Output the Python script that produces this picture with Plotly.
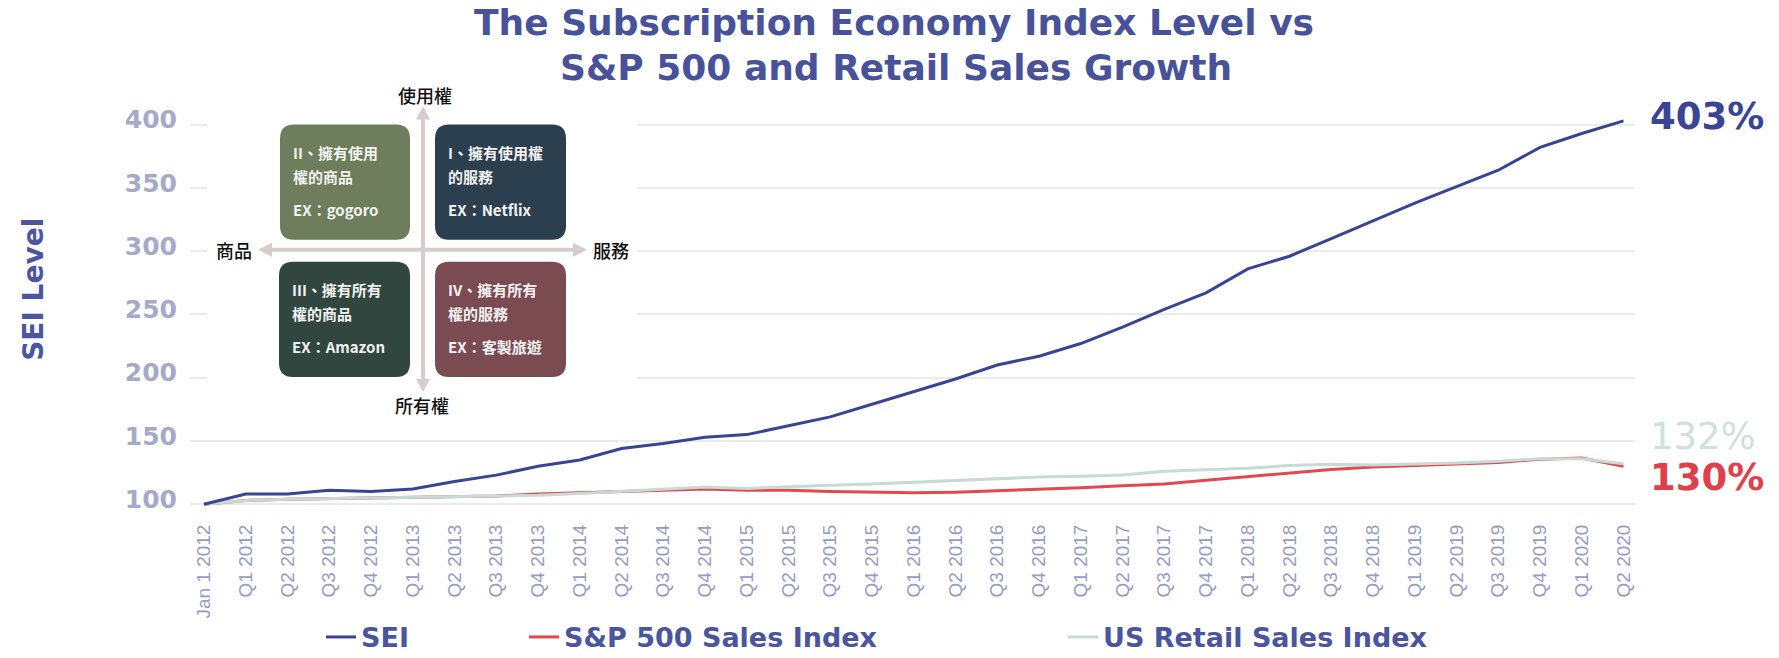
import plotly.graph_objects as go

# ---- data -------------------------------------------------------------
quarters = [
    "Jan 1 2012",
    "Q1 2012", "Q2 2012", "Q3 2012", "Q4 2012",
    "Q1 2013", "Q2 2013", "Q3 2013", "Q4 2013",
    "Q1 2014", "Q2 2014", "Q3 2014", "Q4 2014",
    "Q1 2015", "Q2 2015", "Q3 2015", "Q4 2015",
    "Q1 2016", "Q2 2016", "Q3 2016", "Q4 2016",
    "Q1 2017", "Q2 2017", "Q3 2017", "Q4 2017",
    "Q1 2018", "Q2 2018", "Q3 2018", "Q4 2018",
    "Q1 2019", "Q2 2019", "Q3 2019", "Q4 2019",
    "Q1 2020", "Q2 2020",
]

sei_level = [100, 108, 108, 111, 110, 112, 118, 123, 130, 135, 144, 148, 153,
             155, 162, 169, 179, 189, 199, 210, 217, 227, 240, 254, 267, 286,
             296, 310, 324, 338, 351, 364, 382, 393, 403]

sp500_sales = [100, 103, 104, 104.5, 105, 105.5, 106, 106.5, 108, 109, 110, 111,
               112, 111, 111, 110, 109.5, 109, 109.5, 110.5, 111.5, 113, 114.5,
               116, 119, 122, 125, 127.5, 129.5, 130.5, 131.5, 133, 135.5,
               136.5, 130]

us_retail_sales = [100, 103, 104, 104.5, 105, 105.5, 106, 106.5, 107, 108.5,
                   110, 111.5, 113.5, 112.5, 114, 115, 116, 117.5, 119, 120,
                   121.5, 122, 123, 126, 127, 128.5, 130.5, 131.5, 131, 131.5,
                   132.5, 134, 136, 136, 132]

y_ticks = [100, 150, 200, 250, 300, 350, 400]

end_labels = ["403%", "132%", "130%"]

quadrants = [
    # (line 1, line 2, example, fill)
    ("II、擁有使用", "權的商品", "EX：gogoro", "#6e7d5b"),
    ("I、擁有使用權", "的服務", "EX：Netflix", "#2b3f4e"),
    ("III、擁有所有", "權的商品", "EX：Amazon", "#30463f"),
    ("IV、擁有所有", "權的服務", "EX：客製旅遊", "#7a4c52"),
]

# ---- geometry helpers (page pixels -> paper fractions) ---------------
FIG_W, FIG_H = 1779, 658
M_L, M_R, M_T, M_B = 190, 144, 112.4, 150.2
PLOT_W = FIG_W - M_L - M_R
PLOT_H = FIG_H - M_T - M_B


def xp(px):
    return (px - M_L) / PLOT_W


def yp(py):
    return (FIG_H - M_B - py) / PLOT_H


def poly_path(points):
    s = "M " + " L ".join(f"{xp(x):.5f},{yp(y):.5f}" for x, y in points)
    return s + " Z"


def rounded_rect(x0, y0, x1, y1, r):
    def p(x, y):
        return f"{xp(x):.5f},{yp(y):.5f}"
    return (f"M {p(x0 + r, y0)} L {p(x1 - r, y0)} Q {p(x1, y0)} {p(x1, y0 + r)} "
            f"L {p(x1, y1 - r)} Q {p(x1, y1)} {p(x1 - r, y1)} "
            f"L {p(x0 + r, y1)} Q {p(x0, y1)} {p(x0, y1 - r)} "
            f"L {p(x0, y0 + r)} Q {p(x0, y0)} {p(x0 + r, y0)} Z")


NAVY = "#3a4494"
RED = "#e4474f"
MINT = "#c6dbd4"
TITLE_BLUE = "#48529a"
BOLD = "DejaVu Sans"
CJK = "Noto Sans CJK TC"

fig = go.Figure()

fig.add_trace(go.Scatter(
    x=quarters, y=sp500_sales, mode="lines", name="S&P 500 Sales Index",
    line=dict(color=RED, width=3), legend="legend2", hoverinfo="x+y"))
fig.add_trace(go.Scatter(
    x=quarters, y=us_retail_sales, mode="lines", name="US Retail Sales Index",
    line=dict(color=MINT, width=3), legend="legend3", hoverinfo="x+y"))
fig.add_trace(go.Scatter(
    x=quarters, y=sei_level, mode="lines", name="SEI",
    line=dict(color=NAVY, width=3), legend="legend", hoverinfo="x+y"))

# ---- end-of-line value labels ----------------------------------------
label_specs = [
    (sei_level[-1], end_labels[0], NAVY, "bold", 4),
    (us_retail_sales[-1], end_labels[1], "#cfe1db", "normal", 27),
    (sp500_sales[-1], end_labels[2], "#e0404b", "bold", -11),
]
annotations = []
for val, txt, col, weight, ysh in label_specs:
    annotations.append(dict(
        x=quarters[-1], y=val, xref="x", yref="y", text=txt, showarrow=False,
        xanchor="left", yanchor="middle", xshift=24, yshift=ysh,
        font=dict(family=BOLD, size=37, color=col, weight=weight)))

# ---- title and axis title --------------------------------------------
annotations.append(dict(
    x=xp(894), y=yp(23.5), xref="paper", yref="paper", showarrow=False,
    text="The Subscription Economy Index Level vs", xanchor="center",
    yanchor="middle", font=dict(family=BOLD, size=36, color=TITLE_BLUE,
                                weight="bold")))
annotations.append(dict(
    x=xp(896), y=yp(67.5), xref="paper", yref="paper", showarrow=False,
    text="S&P 500 and Retail Sales Growth", xanchor="center",
    yanchor="middle", font=dict(family=BOLD, size=36, color=TITLE_BLUE,
                                weight="bold")))
annotations.append(dict(
    x=xp(34), y=yp(290), xref="paper", yref="paper", showarrow=False,
    text="SEI Level", textangle=-90, xanchor="center", yanchor="middle",
    font=dict(family=BOLD, size=28, color="#4b56a3", weight="bold")))

# ---- ownership / usage quadrant diagram -----------------------------
shapes = []
shapes.append(dict(type="rect", xref="paper", yref="paper",
                   x0=xp(207), x1=xp(637), y0=yp(422), y1=yp(86),
                   fillcolor="white", line=dict(width=0), layer="above"))

ARROW = "#d8cbcb"
cx, top, bot = 423, 107, 392
shapes.append(dict(type="path", xref="paper", yref="paper", layer="above",
                   fillcolor=ARROW, line=dict(width=0),
                   path=poly_path([(cx, top), (cx + 7, top + 13), (cx + 2, top + 13),
                                   (cx + 2, bot - 13), (cx + 7, bot - 13), (cx, bot),
                                   (cx - 7, bot - 13), (cx - 2, bot - 13),
                                   (cx - 2, top + 13), (cx - 7, top + 13)])))
cy, lft, rgt = 250, 258, 587
shapes.append(dict(type="path", xref="paper", yref="paper", layer="above",
                   fillcolor=ARROW, line=dict(width=0),
                   path=poly_path([(lft, cy), (lft + 14, cy - 7), (lft + 14, cy - 2),
                                   (rgt - 14, cy - 2), (rgt - 14, cy - 7), (rgt, cy),
                                   (rgt - 14, cy + 7), (rgt - 14, cy + 2),
                                   (lft + 14, cy + 2), (lft + 14, cy + 7)])))

box_frames = [(280, 125, 410, 240), (435, 125, 566, 240),
              (279, 262, 410, 377), (435, 262, 566, 377)]
for (x0, y0, x1, y1), (l1, l2, ex, fill) in zip(box_frames, quadrants):
    shapes.append(dict(type="path", xref="paper", yref="paper", layer="above",
                       fillcolor=fill, line=dict(width=0),
                       path=rounded_rect(x0, y0, x1, y1, 14)))
    for txt, ty in ((l1, y0 + 28), (l2, y0 + 52), (ex, y0 + 85)):
        annotations.append(dict(
            x=xp(x0 + 11), y=yp(ty), xref="paper", yref="paper", text=txt,
            showarrow=False, xanchor="left", yanchor="middle",
            font=dict(family=CJK, size=15, color="#f2f2f2", weight="bold")))

for txt, tx, ty in (("使用權", 425, 95), ("所有權", 422, 405),
                    ("商品", 234, 250), ("服務", 611, 250)):
    annotations.append(dict(
        x=xp(tx), y=yp(ty), xref="paper", yref="paper", text=txt,
        showarrow=False, xanchor="center", yanchor="middle",
        font=dict(family=CJK, size=18, color="#111111", weight=500)))

legend_font = dict(family=BOLD, size=27, color="#4a55a0", weight="bold")
legend_y = yp(637)


def legend_at(text_left_px):
    return dict(x=xp(text_left_px - 40), y=legend_y, xanchor="left",
                yanchor="middle", orientation="h", font=legend_font,
                bgcolor="rgba(0,0,0,0)", borderwidth=0)


fig.update_layout(
    width=FIG_W, height=FIG_H,
    margin=dict(l=M_L, r=M_R, t=M_T, b=M_B, pad=0, autoexpand=False),
    paper_bgcolor="white", plot_bgcolor="white",
    showlegend=True,
    legend=legend_at(361),
    legend2=legend_at(564),
    legend3=legend_at(1103),
    xaxis=dict(type="category", range=[-0.335, 34.275], showgrid=False,
               zeroline=False, showline=False, tickangle=-90,
               ticks="outside", ticklen=8, tickcolor="rgba(0,0,0,0)",
               tickfont=dict(family="Liberation Sans", size=19,
                             color="#959cc6")),
    yaxis=dict(range=[97, 410], tickvals=y_ticks, showgrid=True,
               gridcolor="#ebebeb", gridwidth=1.5, zeroline=False,
               showline=False, ticks="", ticklabelstandoff=12,
               ticklabelshift=-5,
               tickfont=dict(family=BOLD, size=25, color="#a5aacb",
                             weight="bold")),
    shapes=shapes,
    annotations=annotations,
)

fig.write_html("out.html")
